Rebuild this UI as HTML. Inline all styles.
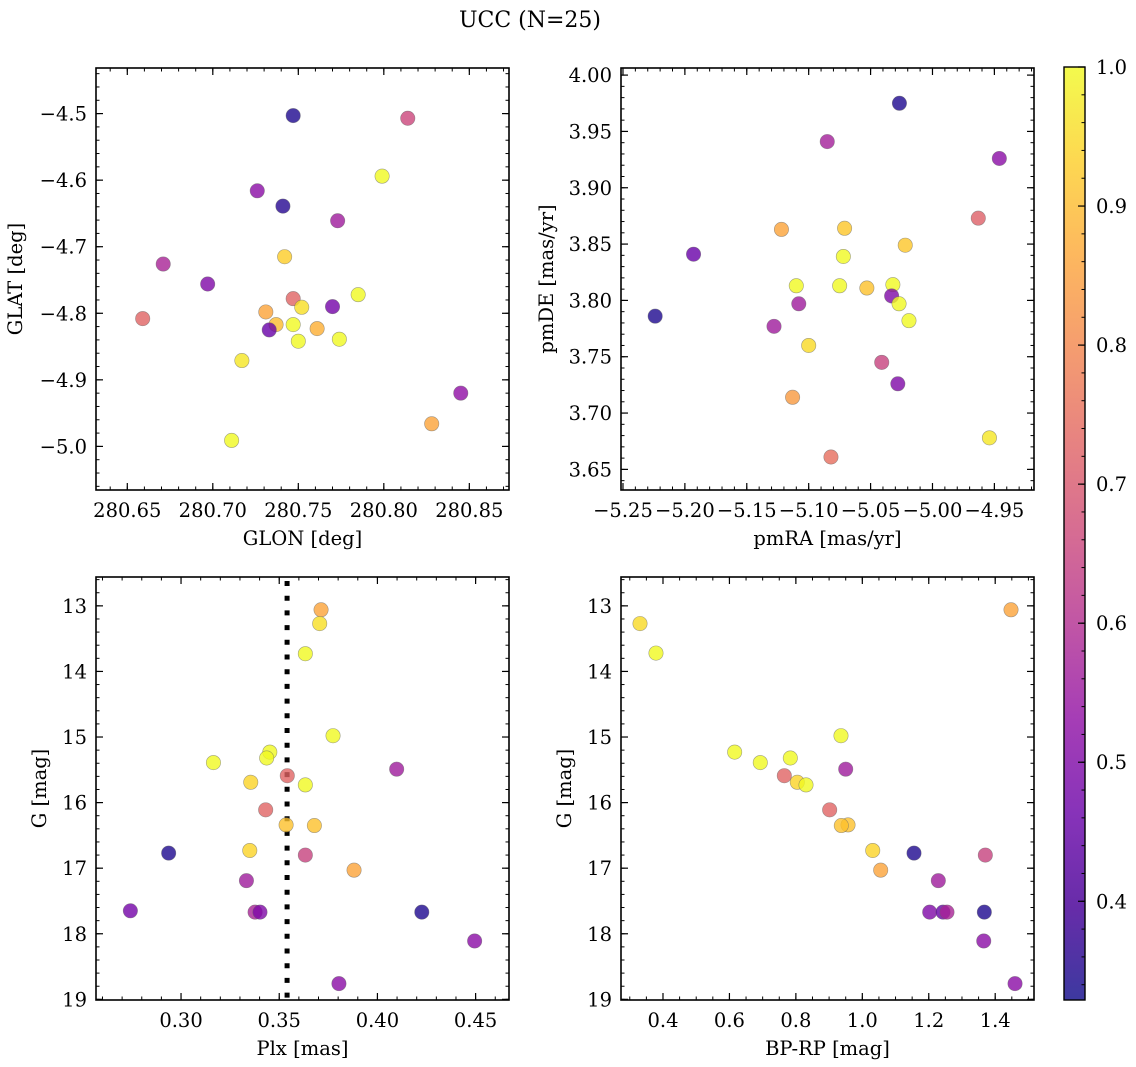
<!DOCTYPE html>
<html><head><meta charset="utf-8"><style>
html,body{margin:0;padding:0;background:#fff;}
svg{display:block;font-family:"DejaVu Serif","Liberation Serif",serif;}
</style></head><body>
<svg id="fig" width="1136" height="1067" viewBox="0 0 1136 1067" xmlns="http://www.w3.org/2000/svg">
<defs>
<linearGradient id="cbgrad" x1="0" y1="1" x2="0" y2="0">
<stop offset="0" stop-color="#3d39a0"/><stop offset="0.1" stop-color="#672ca9"/><stop offset="0.2" stop-color="#8733b9"/><stop offset="0.3" stop-color="#a53db6"/><stop offset="0.4" stop-color="#c055a6"/><stop offset="0.5" stop-color="#d66c93"/><stop offset="0.6" stop-color="#e78381"/><stop offset="0.7" stop-color="#f59d6f"/><stop offset="0.8" stop-color="#fdb85e"/><stop offset="0.9" stop-color="#fdd851"/><stop offset="1" stop-color="#f3fa4d"/>
</linearGradient>
</defs>
<text x="530" y="27" font-size="22" text-anchor="middle">UCC (N=25)</text>
</svg>
<script>
// ---- data ----
const glon = [280.747,280.814,280.799,280.726,280.741,280.773,280.742,280.671,280.697,280.785,280.747,280.752,280.770,280.659,280.731,280.737,280.733,280.747,280.761,280.750,280.774,280.717,280.845,280.828,280.711];
const glat = [-4.503,-4.507,-4.594,-4.616,-4.639,-4.661,-4.715,-4.726,-4.756,-4.772,-4.778,-4.791,-4.790,-4.808,-4.798,-4.817,-4.825,-4.817,-4.823,-4.842,-4.839,-4.871,-4.920,-4.966,-4.991];
const prob1 = [0.35,0.66,1.0,0.52,0.36,0.56,0.93,0.58,0.50,1.0,0.73,0.96,0.48,0.73,0.86,0.9,0.46,1.0,0.88,1.0,1.0,0.97,0.53,0.86,1.0];

const pmra = [-5.0267,-5.085,-4.946,-4.963,-5.122,-5.071,-5.022,-5.193,-5.072,-5.110,-5.075,-5.053,-5.032,-5.033,-5.027,-5.108,-5.224,-5.019,-5.128,-5.100,-5.041,-5.028,-5.113,-4.954,-5.082];
const pmde = [3.975,3.941,3.926,3.873,3.863,3.864,3.849,3.841,3.839,3.813,3.813,3.811,3.814,3.804,3.797,3.797,3.786,3.782,3.777,3.760,3.745,3.726,3.714,3.678,3.661];
const prob2 = [0.35,0.57,0.52,0.72,0.86,0.92,0.92,0.46,1.0,1.0,1.0,0.91,1.0,0.50,1.0,0.56,0.35,1.0,0.56,0.95,0.65,0.50,0.84,0.97,0.75];

const plx = [0.3713,0.3706,0.3633,0.3774,0.3452,0.3436,0.3165,0.3541,0.4098,0.3355,0.3633,0.3431,0.3535,0.3679,0.2937,0.3350,0.3633,0.3881,0.3333,0.2742,0.3377,0.3402,0.4226,0.4495,0.3804];
const gmag3 = [13.06,13.27,13.73,14.98,15.23,15.32,15.39,15.59,15.49,15.69,15.73,16.11,16.34,16.35,16.77,16.73,16.80,17.03,17.19,17.65,17.67,17.67,17.67,18.11,18.76];
const prob3 = [0.86,0.96,1.0,1.0,1.0,1.0,1.0,0.73,0.56,0.94,1.0,0.73,0.91,0.91,0.35,0.94,0.65,0.86,0.56,0.48,0.58,0.50,0.35,0.52,0.52];
const plxMedian = [0.354];

const bprp = [1.4476,0.3308,0.3789,0.9358,0.6157,0.7833,0.6929,0.950,0.7652,0.8043,0.8305,0.9017,0.957,0.9368,1.0313,1.1556,1.3703,1.0553,1.2288,1.2028,1.2429,1.2549,1.3673,1.3655,1.4597];
const gmag4 = [13.06,13.27,13.72,14.98,15.23,15.32,15.39,15.49,15.59,15.69,15.73,16.11,16.34,16.35,16.73,16.77,16.80,17.03,17.19,17.67,17.67,17.67,17.67,18.11,18.76];
const prob4 = [0.86,0.95,1.0,1.0,1.0,1.0,1.0,0.56,0.73,0.94,1.0,0.73,0.91,0.91,0.94,0.35,0.65,0.86,0.56,0.50,0.46,0.58,0.35,0.52,0.52];

const cbTicks = [0.4,0.5,0.6,0.7,0.8,0.9,1.0];
const cbMin = 0.329, cbMax = 1.0;

// ---- helpers ----
const NS = "http://www.w3.org/2000/svg";
const svg = document.getElementById('fig');
const FS = 19.5;
function mk(tag, attrs, parent){
  const e = document.createElementNS(NS, tag);
  for (const k in attrs) e.setAttribute(k, attrs[k]);
  (parent||svg).appendChild(e);
  return e;
}
const plasma = [[13,8,135],[65,4,157],[106,0,168],[143,13,164],[177,42,144],[204,71,120],[225,100,98],[242,132,75],[252,166,54],[252,206,37],[240,249,33]];
function cmap(v){
  let t = (v - cbMin)/(cbMax - cbMin); t = Math.max(0, Math.min(1, t));
  const f = t*10, i = Math.min(9, Math.floor(f)), r = f - i;
  const c = plasma[i].map((a,k)=>Math.round(a + (plasma[i+1][k]-a)*r));
  return 'rgb('+c.join(',')+')';
}
function fmt(v, d){ const s = Math.abs(v).toFixed(d); return (v < -1e-9 ? '\u2212' : '') + s; }

function panel(cfg){
  const g = mk('g', {});
  
  
  const {L,R,T,B} = cfg;
  const sx = v => L + (v - cfg.x0)/(cfg.x1 - cfg.x0)*(R - L);
  const sy = cfg.yInv ? (v => T + (v - cfg.y0)/(cfg.y1 - cfg.y0)*(B - T)) : (v => B - (v - cfg.y0)/(cfg.y1 - cfg.y0)*(B - T));
  const frame = mk('rect', {x:L, y:T, width:R-L, height:B-T, fill:'none', stroke:'#000', 'stroke-width':1.6}, g);
  
  
  const xlo = Math.min(cfg.x0,cfg.x1), xhi = Math.max(cfg.x0,cfg.x1);
  const ylo = Math.min(cfg.y0,cfg.y1), yhi = Math.max(cfg.y0,cfg.y1);
  for (let k = Math.ceil(xlo/cfg.xmin - 1e-6); k*cfg.xmin <= xhi + 1e-9; k++){
    const x = sx(k*cfg.xmin);
    mk('line', {x1:x, x2:x, y1:B, y2:B-3.5, stroke:'#000', 'stroke-width':1}, g);
    mk('line', {x1:x, x2:x, y1:T, y2:T+3.5, stroke:'#000', 'stroke-width':1}, g);
  }
  for (let k = Math.ceil(ylo/cfg.ymin - 1e-6); k*cfg.ymin <= yhi + 1e-9; k++){
    const y = sy(k*cfg.ymin);
    mk('line', {x1:L, x2:L+3.5, y1:y, y2:y, stroke:'#000', 'stroke-width':1}, g);
    mk('line', {x1:R, x2:R-3.5, y1:y, y2:y, stroke:'#000', 'stroke-width':1}, g);
  }
  cfg.xt.forEach(v => {
    const x = sx(v);
    mk('line', {x1:x, x2:x, y1:B, y2:B-7, stroke:'#000', 'stroke-width':1.2}, g);
    mk('line', {x1:x, x2:x, y1:T, y2:T+7, stroke:'#000', 'stroke-width':1.2}, g);
    const t = mk('text', {x:x, y:B+27, 'font-size':FS, 'text-anchor':'middle'}, g);
    
    
    t.textContent = fmt(v, cfg.xd);
  });
  cfg.yt.forEach(v => {
    const y = sy(v);
    mk('line', {x1:L, x2:L+7, y1:y, y2:y, stroke:'#000', 'stroke-width':1.2}, g);
    mk('line', {x1:R, x2:R-7, y1:y, y2:y, stroke:'#000', 'stroke-width':1.2}, g);
    const t = mk('text', {x:L-9, y:y+7, 'font-size':FS, 'text-anchor':'end'}, g);
    
    
    t.textContent = fmt(v, cfg.yd);
  });
  const xl = mk('text', {x:(L+R)/2, y:B+55, 'font-size':FS, 'text-anchor':'middle'}, g);
  
  
  xl.textContent = cfg.xlabel;
  const yl = mk('text', {x:0, y:0, 'font-size':FS, 'text-anchor':'middle', transform:'translate('+cfg.ylx+','+((T+B)/2)+') rotate(-90)'}, g);
  
  
  yl.textContent = cfg.ylabel;
  if (cfg.vline !== undefined){
    const x = sx(cfg.vline);
    const vl = mk('line', {x1:x, x2:x, y1:T+4, y2:B, stroke:'#000', 'stroke-width':5, 'stroke-dasharray':'5 9.7'}, g);
    
    
  }
  cfg.xs.forEach((v,i) => {
    const c = mk('circle', {cx:sx(v), cy:sy(cfg.ys[i]), r:7.2, fill:cmap(cfg.p[i]), 'fill-opacity':0.8, stroke:'#666', 'stroke-opacity':0.6, 'stroke-width':0.6}, g);
    
    
  });
}

panel({name:'glon-glat-panel', L:96, R:509, T:68, B:490,
  x0:280.6317, x1:280.8732, y0:-5.0655, y1:-4.4315, yInv:false,
  xt:[280.65,280.70,280.75,280.80,280.85], xd:2, xmin:0.01,
  yt:[-4.5,-4.6,-4.7,-4.8,-4.9,-5.0], yd:1, ymin:0.02,
  xlabel:'GLON [deg]', ylabel:'GLAT [deg]', ylx:22,
  xs:glon, ys:glat, p:prob1});

panel({name:'pm-panel', L:621, R:1034, T:68, B:490,
  x0:-5.2516, x1:-4.9180, y0:3.6317, y1:4.0063, yInv:false,
  xt:[-5.25,-5.20,-5.15,-5.10,-5.05,-5.00,-4.95], xd:2, xmin:0.01,
  yt:[4.00,3.95,3.90,3.85,3.80,3.75,3.70,3.65], yd:2, ymin:0.01,
  xlabel:'pmRA [mas/yr]', ylabel:'pmDE [mas/yr]', ylx:553,
  xs:pmra, ys:pmde, p:prob2});

panel({name:'plx-g-panel', L:96, R:509, T:577, B:1000,
  x0:0.2567, x1:0.4670, y0:12.56, y1:19.01, yInv:true,
  xt:[0.30,0.35,0.40,0.45], xd:2, xmin:0.01,
  yt:[13,14,15,16,17,18,19], yd:0, ymin:0.2,
  xlabel:'Plx [mas]', ylabel:'G [mag]', ylx:46,
  xs:plx, ys:gmag3, p:prob3, vline:plxMedian[0]});

panel({name:'cmd-panel', L:621, R:1034, T:577, B:1000,
  x0:0.2736, x1:1.5168, y0:12.56, y1:19.01, yInv:true,
  xt:[0.4,0.6,0.8,1.0,1.2,1.4], xd:1, xmin:0.05,
  yt:[13,14,15,16,17,18,19], yd:0, ymin:0.2,
  xlabel:'BP-RP [mag]', ylabel:'G [mag]', ylx:571,
  xs:bprp, ys:gmag4, p:prob4});

const cb = mk('g', {});


const cbL = 1064, cbR = 1085, cbT = 67, cbB = 1000;
const cy = v => cbB - (v - cbMin)/(cbMax - cbMin)*(cbB - cbT);
mk('rect', {x:cbL, y:cbT, width:cbR-cbL, height:cbB-cbT, fill:'url(#cbgrad)', stroke:'#000', 'stroke-width':1.4}, cb);
for (let k = Math.ceil(cbMin/0.02); k*0.02 <= cbMax + 1e-9; k++){
  const y = cy(k*0.02);
  mk('line', {x1:cbR, x2:cbR-3.5, y1:y, y2:y, stroke:'#000', 'stroke-width':1}, cb);
}
cbTicks.forEach(v => {
  const y = cy(v);
  mk('line', {x1:cbR, x2:cbR-7, y1:y, y2:y, stroke:'#000', 'stroke-width':1.2}, cb);
  const t = mk('text', {x:1096, y:y+7, 'font-size':FS}, cb);
  
  
  t.textContent = v.toFixed(1);
});
</script>
</body></html>
